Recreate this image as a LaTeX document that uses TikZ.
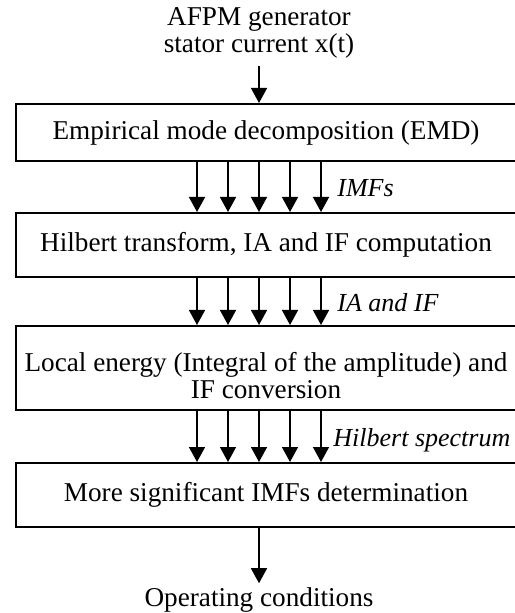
\documentclass[tikz,border=0pt]{standalone}
\usepackage{fontspec}
\setmainfont{Liberation Serif}
\usetikzlibrary{arrows.meta,calc}

\begin{document}
\begin{tikzpicture}
[every node/.style={inner sep=0pt},
 stage/.style={rectangle, minimum width=250.5pt, line width=1pt, draw=black, align=center, font=\fontsize{13.6pt}{13.8pt}\selectfont},
 plain/.style={align=center, font=\fontsize{13.6pt}{13.8pt}\selectfont},
 tag/.style={anchor=west, font=\fontsize{13pt}{15pt}\selectfont\itshape},
 flow/.style={line width=0.75pt, -{Triangle[width=8pt,length=7.5pt]}, color=black}]
\useasboundingbox (0pt, 0pt) rectangle (257pt, -306.5pt);
\node (0) [plain] at (129.5pt, -16.5pt)  {AFPM generator\\stator current x(t)};
\node (1) [stage, minimum height=28.5pt] at (133pt, -66.25pt)  {Empirical mode decomposition (EMD)};
\node (2) [stage, minimum height=32pt] at (133pt, -122.5pt)  {Hilbert transform, IA and IF computation};
\node (3) [stage, minimum height=42pt] at (133pt, -184pt)  {\rule{0pt}{17pt}Local energy (Integral of the amplitude) and\\IF conversion};
\node (4) [stage, minimum height=32pt] at (133pt, -247.5pt)  {More significant IMFs determination};
\node (5) [plain] at (129.5pt, -300pt)  {Operating conditions};
\draw [flow] ([yshift=-3.5pt]0.south) to (0.south |- 1.north);
\foreach \d in {-31,-15.5,0,15.5,31} {
  \draw [flow] ($(0.south |- 1.south)+(\d pt,0)$) to ($(0.south |- 2.north)+(\d pt,0)$);
  \draw [flow] ($(0.south |- 2.south)+(\d pt,0)$) to ($(0.south |- 3.north)+(\d pt,0)$);
  \draw [flow] ($(0.south |- 3.south)+(\d pt,0)$) to ($(0.south |- 4.north)+(\d pt,0)$);
}
\draw [flow] (5.north |- 4.south) to ([yshift=2pt]5.north);
\node (6) [tag] at (168.5pt, -94pt) {IMFs};
\node (7) [tag] at (168.5pt, -151.5pt) {IA and IF};
\node (8) [tag] at (166.5pt, -220pt) {Hilbert spectrum};
\end{tikzpicture}
\end{document}
